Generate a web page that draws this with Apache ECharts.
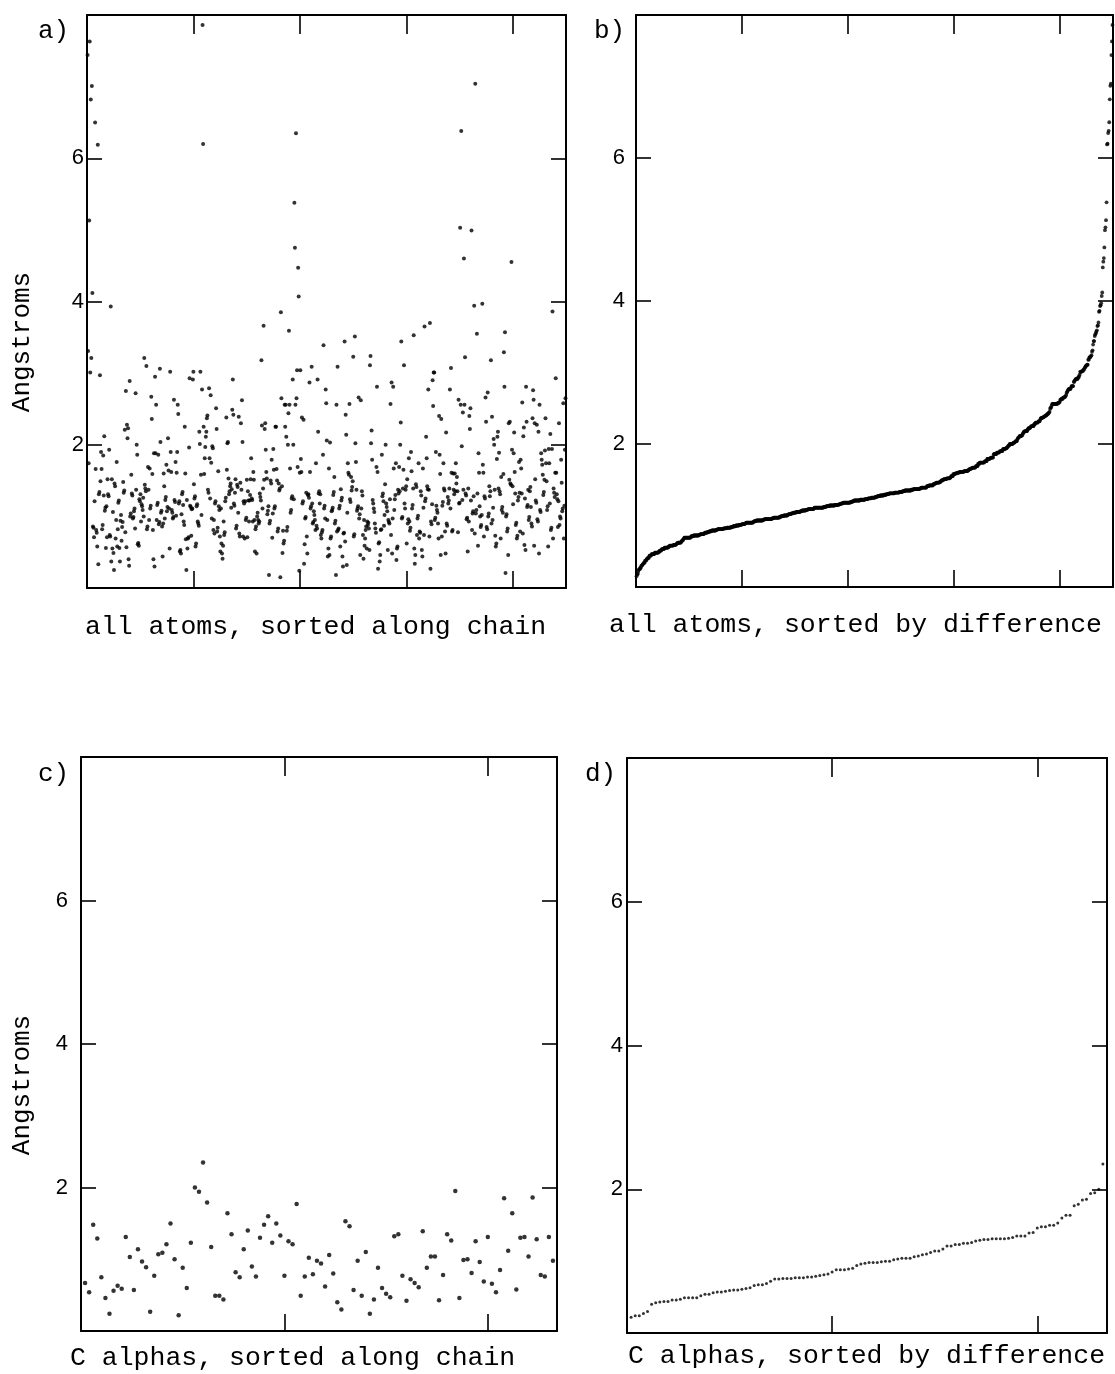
<!DOCTYPE html>
<html><head><meta charset="utf-8">
<script src="https://cdn.jsdelivr.net/npm/echarts@6/dist/echarts.min.js"></script>
<style>html,body{margin:0;padding:0;background:#fff}#c{width:1115px;height:1374px}</style>
</head><body><div id="c"></div>
<script>
// Panel a: all atoms, in chain order (four stretches of the chain, left to right).
// Dense band includes dots that overlap in the scan (their count is taken from panel b).
const allAtomsPart1 = [7.44,3.31,1.74,5.13,7.63,3.01,6.82,3.21,7.01,4.12,0.86,0.84,0.71,1.21,6.5,1.66,0.81,0.77,0.58,6.19,0.33,
1.31,1.34,2.97,1.49,1.90,1.66,0.82,0.88,1.85,1.29,2.12,1.08,1.12,0.56,1.14,
0.71,1.52,1.31,1.28,1.93,0.74,0.72,3.93,0.37,1.52,0.55,1.06,0.49,0.25,1.46,1.42,0.69,0.95,
1.76,0.58,0.82,1.19,1.22,0.56,0.37,0.94,1.02,0.66,0.85,0.92,1.48,1.33,1.36,2.21,0.78,
2.75,0.57,2.28,2.09,2.23,0.40,0.31,2.89,1.00,1.04,1.58,1.32,1.29,0.97,0.99,1.07,1.11,
0.83,2.72,1.37,2.00,1.86,0.61,0.63,0.59,1.24,1.21,1.31,0.93,1.17,1.14,1.09,1.26,1.00,
3.21,1.44,1.39,1.35,3.10,0.82,0.86,1.69,1.37,0.95,1.67,1.11,1.15,2.67,2.36,1.59,0.81,0.40,1.88,0.30,
2.95,1.88,2.56,0.95,1.16,1.19,1.86,0.89,0.92,3.06,2.04,1.05,1.08,0.86,0.44,0.90,1.60,1.42,0.97,1.23,1.27,
1.72,1.07,1.13,2.09,1.64,1.11,0.55,3.02,1.90,1.62,1.09,1.05,0.97,0.99,2.63,1.23,1.20,1.76,1.01,1.61,
1.90,2.56,2.43,1.18,1.21,0.51,0.53,0.48,1.03,1.31,1.34,1.16,0.93,0.88,2.25,1.60,0.68,0.25,
1.23,0.55,0.69,0.71,1.96,2.93,1.15,1.13,0.73,1.10,1.11,2.91,3.02,1.45,1.25,1.28,0.58,0.62,
1.14,1.17,0.93,0.90,0.87,2.18,2.01,3.02,1.58,1.02,2.77,7.86,6.2];
const allAtomsPart2 = [2.25,1.59,1.81,1.97,2.11,2.18,2.37,2.41,1.37,1.33,2.79,1.81,1.25,2.69,1.75,0.97,1.98,1.95,
0.81,0.95,0.76,1.18,1.21,2.51,2.22,0.79,0.84,1.63,1.14,1.09,0.72,0.51,1.11,0.62,0.48,0.41,0.59,0.93,
0.74,0.78,1.21,1.26,2.38,1.65,2.02,2.04,1.53,1.31,1.35,1.42,1.46,1.12,1.38,
2.49,2.91,2.42,1.18,1.15,1.33,1.52,0.83,0.87,1.44,1.41,1.05,2.39,0.76,0.72,1.47,2.30,1.37,2.62,2.04,0.72,
1.21,1.18,0.69,1.21,0.95,0.98,1.51,0.71,1.35,1.22,0.93,1.22,1.30,1.52,1.81,1.25,1.23,0.93,
1.62,1.51,0.95,0.51,0.82,0.86,0.48,1.00,1.05,0.95,0.90,0.93,1.32,1.27,1.22,3.18,2.27,1.11,1.39,
3.66,1.51,2.22,2.30,1.93,1.62,1.53,1.03,1.08,1.14,0.18,0.90,0.94,1.50,1.46,1.79,0.70,1.04,1.94,1.65,
1.11,1.14,2.25,2.25,1.66,1.50,0.79,0.83,1.46,1.36,1.39,0.15,3.85,2.65,1.42,0.49,0.80,0.62,0.66,
2.56,2.25,2.56,2.11,0.80,0.85,2.00,2.44,3.59,2.56,1.67,1.05,1.09,1.25,1.28,2.91,2.00,1.24,5.38,
4.75,2.56,6.35,2.65,3.04,1.69,4.47,4.07,0.24,1.61,3.04,1.80,1.62,2.38,1.18,1.21,2.35,0.34,0.61,0.97,0.99,1.33,0.72,0.48,
1.30,1.31,1.26,2.87,1.62,1.11,1.14,3.09,1.18,0.90,0.92,1.07,1.02,0.95,0.81,1.74,0.87,0.83,
2.91,2.18,1.32,1.35,1.18,1.31,0.74,0.69,0.78,0.81,1.86,3.39,1.11,1.15,0.97,2.77,2.58,2.06,0.95,0.44,0.55];
const allAtomsPart3 = [1.67,0.46,2.03,0.69,0.72,1.07,1.09,1.12,1.30,1.34,1.55,0.90,0.94,0.18,2.56,
0.79,3.09,0.81,0.83,1.11,1.15,0.58,1.38,1.22,1.26,0.44,0.30,0.76,0.77,3.44,0.65,2.42,2.14,0.32,1.05,
1.74,1.61,1.58,2.57,1.24,1.20,1.55,1.36,1.41,1.49,3.23,0.72,0.75,3.51,2.02,1.76,1.37,1.08,
1.11,1.14,2.66,0.97,1.03,0.46,2.62,1.11,1.35,1.29,0.74,0.41,0.95,0.59,0.69,0.81,0.86,0.55,0.93,
0.88,0.91,0.83,0.53,3.11,3.24,2.02,2.20,1.79,1.23,1.18,1.11,1.06,0.90,0.83,0.77,1.69,2.81,1.62,
0.27,0.62,0.64,0.37,0.46,0.81,0.82,1.86,1.28,1.32,1.21,0.87,1.02,1.45,2.00,
1.18,1.13,1.07,0.53,0.95,0.92,0.90,1.24,2.57,0.74,2.87,0.48,0.97,2.81,1.67,1.09,1.24,1.30,
1.74,0.39,0.55,0.58,1.37,1.32,1.69,1.35,2.00,2.31,3.44,0.97,0.99,1.39,1.65,3.11,1.18,1.11,
1.37,1.42,0.62,1.52,0.90,0.96,1.81,0.93,0.80,0.84,1.90,1.63,1.11,1.16,1.39,3.53,0.55,0.34,0.46,
1.45,1.41,0.74,0.97,1.01,1.74,0.69,0.79,0.77,1.35,1.29,0.53,0.44,1.67,1.12,0.74,
3.65,1.21,1.25,2.11,1.81,1.42,1.38,2.77,1.37,0.72,3.70,0.27,0.93,0.89,1.17,2.90,
2.54,3.01,3.01,0.95,0.98,1.90,1.15,1.09,1.05,0.90,0.69,2.40,1.86,1.59,0.46,2.36,0.72,1.15,1.20];
const allAtomsPart4 = [1.74,1.39,1.36,0.79,0.48,2.17,0.90,0.87,1.27,1.18,1.22,1.39,2.77,1.11,3.07,1.61,
0.79,0.81,1.60,1.37,1.31,1.60,1.35,1.74,1.46,1.55,1.35,0.78,2.63,1.18,1.19,5.03,2.56,6.38,1.98,1.23,2.45,1.37,
4.6,2.56,3.22,1.32,1.29,0.96,0.98,0.51,1.39,0.93,2.40,2.22,2.51,1.22,4.99,0.81,1.04,1.07,1.28,
3.94,0.76,7.04,1.04,1.09,3.55,1.32,0.59,1.88,1.61,1.14,1.00,0.85,0.88,1.02,3.97,1.72,1.61,0.72,1.28,1.25,
2.66,2.32,0.85,0.82,2.73,1.00,1.04,1.42,1.28,1.35,3.18,0.90,2.39,0.95,1.12,2.08,2.00,1.37,0.73,
0.58,0.62,1.80,2.11,2.18,1.39,1.89,1.35,1.31,0.69,1.55,1.09,1.13,1.05,1.59,3.29,2.81,
3.57,0.21,1.00,1.03,0.79,0.83,0.46,2.30,1.51,2.32,1.46,1.44,4.55,1.93,1.42,1.17,1.88,
2.17,1.62,1.32,0.88,0.91,0.69,0.73,1.22,1.27,1.76,1.33,0.79,1.79,1.67,1.32,2.59,0.76,2.12,2.24,0.60,1.25,
0.53,2.81,2.32,1.13,1.16,1.37,0.95,0.99,1.35,1.41,1.13,0.90,0.86,2.37,2.76,2.63,0.59,2.30,
1.52,1.22,1.19,2.28,0.96,0.93,2.18,0.48,2.56,1.09,1.06,1.88,1.79,1.72,1.58,1.30,1.34,1.51,1.92,
2.37,1.74,1.49,1.09,1.14,0.58,1.94,1.74,1.18,2.15,0.81,0.84,1.94,3.86,0.69,1.39,1.33,1.27,
1.61,2.93,1.61,1.31,1.24,0.85,1.21,2.30,0.88,1.00,0.97,1.79,1.47,1.07,1.11,2.58,0.69,1.15,1.93,2.65];

// Panel c: C alpha atoms, in chain order
const cAlphas = [0.67,0.54,1.48,1.29,0.75,0.46,0.24,0.56,0.63,0.59,1.31,1.03,0.57,1.14,0.97,0.89,0.27,0.77,1.07,1.09,
1.21,1.50,1.00,0.22,0.88,0.60,1.23,2.00,1.94,2.35,1.79,1.17,0.49,0.49,0.44,1.64,1.35,0.82,0.75,1.14,
1.40,0.90,0.76,1.30,1.48,1.60,1.23,1.50,1.33,0.77,1.25,1.21,1.77,0.49,0.76,1.02,0.79,0.98,0.94,0.62,
1.06,0.80,0.40,0.30,1.53,1.46,0.57,0.98,0.49,1.10,0.24,0.44,0.88,0.60,0.52,0.47,1.32,1.35,0.77,0.42,
0.72,0.67,0.61,1.39,0.88,1.04,1.04,0.43,0.78,1.35,1.26,1.95,0.46,0.99,1.00,0.81,1.25,0.96,0.69,1.31,
0.66,0.54,0.85,1.85,1.12,1.64,0.58,1.30,1.31,1.04,1.86,1.28,0.78,0.76,1.31,0.98];

const yLabelValues = [2, 4, 6];
const panelLetters = ['a)', 'b)', 'c)', 'd)'];
const xTitles = ['all atoms, sorted along chain', 'all atoms, sorted by difference',
                 'C alphas, sorted along chain', 'C alphas, sorted by difference'];
const yTitle = 'Angstroms';

const allAtoms = allAtomsPart1.concat(allAtomsPart2, allAtomsPart3, allAtomsPart4);
const allSorted = allAtoms.slice().sort((p, q) => p - q);
const cSorted = cAlphas.slice().sort((p, q) => p - q);

const maxA = allAtoms.length + 1;
const intA = maxA * 2 / 9;
const maxC = 117, intC = 50;

const INK = '#000';
const grids = [
  {left: 87, top: 15, width: 479, height: 573},
  {left: 636, top: 15, width: 477, height: 572},
  {left: 81, top: 757, width: 476, height: 574},
  {left: 627, top: 758, width: 480, height: 575}
];
const labelMargin = [3, 11, 13, 4];

function xAx(g, pos, max, interval) {
  return {type: 'value', gridIndex: g, position: pos, min: 0, max: max, interval: interval,
    axisLine: {show: true, onZero: false, lineStyle: {color: INK, width: 2}},
    axisTick: {show: true, inside: true, length: pos === 'top' ? 19 : 17, lineStyle: {color: INK, width: 1.6}},
    axisLabel: {show: false}, splitLine: {show: false}};
}
function yAx(g, pos) {
  return {type: 'value', gridIndex: g, position: pos, min: 0, max: 8, interval: 2,
    axisLine: {show: true, onZero: false, lineStyle: {color: INK, width: 2}},
    axisTick: {show: true, inside: true, length: 15, lineStyle: {color: INK, width: 1.6}},
    axisLabel: {show: pos === 'left', margin: labelMargin[g], color: INK, fontSize: 22,
      fontFamily: 'Liberation Sans',
      formatter: v => yLabelValues.indexOf(v) >= 0 ? String(v) : ''},
    splitLine: {show: false}};
}

const xAxes = [], yAxes = [];
[[maxA, intA], [maxA, intA], [maxC, intC], [maxC, intC]].forEach((m, g) => {
  xAxes.push(xAx(g, 'bottom', m[0], m[1]));
  xAxes.push(xAx(g, 'top', m[0], m[1]));
  yAxes.push(yAx(g, 'left'));
  yAxes.push(yAx(g, 'right'));
});

const seriesData = [allAtoms, allSorted, cAlphas, cSorted];
const symSizes = [4, 3.8, 4.5, 3.0];
const series = seriesData.map((arr, g) => ({
  type: 'scatter', xAxisIndex: g * 2, yAxisIndex: g * 2,
  data: arr.map((v, i) => [i + 1, v]),
  symbol: 'circle', symbolSize: symSizes[g],
  itemStyle: {color: INK}, silent: true, large: false
}));

const monoFont = 'Liberation Mono';
const letterPos = [[38, 32], [594, 32], [38, 775], [585, 775]];
const titlePos = [[85, 627], [609, 625], [70, 1358], [628, 1356]];
const graphics = [];
panelLetters.forEach((t, i) => graphics.push({type: 'text', left: letterPos[i][0], top: letterPos[i][1] - 14,
  style: {text: t, fill: INK, font: '26px "' + monoFont + '"'}}));
xTitles.forEach((t, i) => graphics.push({type: 'text', x: titlePos[i][0], y: titlePos[i][1],
  style: {text: t, fill: INK, font: '26.5px "' + monoFont + '"', textAlign: 'left', textVerticalAlign: 'middle'}}));
[[22, 342], [22, 1085]].forEach(p => graphics.push({type: 'text', x: p[0], y: p[1], rotation: Math.PI / 2,
  style: {text: yTitle, fill: INK, font: '26px "' + monoFont + '"', textAlign: 'center', textVerticalAlign: 'middle'}}));

const chart = echarts.init(document.getElementById('c'), null, {renderer: 'canvas'});
chart.setOption({
  backgroundColor: '#fff', animation: false,
  grid: grids, xAxis: xAxes, yAxis: yAxes, series: series, graphic: graphics
});
</script></body></html>
